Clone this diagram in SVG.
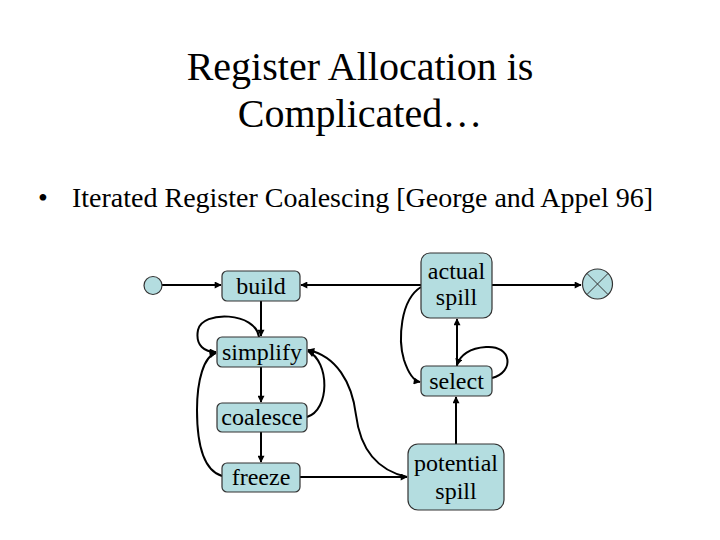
<svg xmlns="http://www.w3.org/2000/svg" width="720" height="540" viewBox="0 0 720 540">
<style>
.t{font-family:'Liberation Serif','Times New Roman',serif;fill:#000}
.n{fill:#b4dde0;stroke:#333;stroke-width:1.2}
.c{fill:none;stroke:#000;stroke-width:2;marker-end:url(#ah)}
.lbl{font-size:24px;text-anchor:middle}
</style>
<defs>
<marker id="ah" viewBox="0 0 10 10" refX="9" refY="5" markerWidth="8" markerHeight="7" markerUnits="userSpaceOnUse" orient="auto">
<path d="M0,0 L10,5 L0,10 z" fill="#000"/>
</marker>
</defs>
<rect width="720" height="540" fill="#fff"/>
<g id="title">
<text class="t" x="360" y="80" font-size="40" text-anchor="middle">Register Allocation is</text>
<text class="t" x="360" y="127" font-size="40" text-anchor="middle">Complicated…</text>
</g>
<g id="bullet">
<text class="t" x="38" y="207" font-size="28">•</text>
<text class="t" x="72" y="207" font-size="28">Iterated Register Coalescing [George and Appel 96]</text>
</g>
<g id="connectors">
<path class="c" d="M162,285 L221,285"/>
<path class="c" d="M421,285 L301,285"/>
<path class="c" d="M492,285 L581,285"/>
<path class="c" d="M261,301 L261,336"/>
<path class="c" d="M261,367 L261,402"/>
<path class="c" d="M261,432 L261,462"/>
<path class="c" d="M259,337 C256,312 202,310 198,330 C195,346 205,352 216,352"/>
<path class="c" d="M222,476 C202,470 197,440 197,410 C197,380 204,356 216,353"/>
<path class="c" d="M307,417 C330,410 330,362 308,351"/>
<path class="c" d="M407,477 C376,470 360,447 356,415 C352,382 336,356 308,350"/>
<path class="c" d="M300,477 L407,477"/>
<path class="c" d="M457,366 L457,319"/>
<path class="c" d="M456,444 L456,397"/>
<path class="c" d="M492,378 C515,372 512,345 486,347 C470,348 460,355 457,365"/>
<path class="c" d="M421,287 C400,300 398,340 404,360 C409,375 414,381 420,382"/>
</g>
<g id="start"><circle class="n" cx="153" cy="285.5" r="9"/></g>
<g id="end">
<circle class="n" cx="597.5" cy="284" r="15"/>
<path d="M586.9,273.4 L608.1,294.6 M608.1,273.4 L586.9,294.6" stroke="#333" stroke-width="1"/>
</g>
<g id="build">
<rect class="n" x="222" y="271" width="78" height="30" rx="5"/>
<text class="t lbl" x="261" y="294">build</text>
</g>
<g id="simplify">
<rect class="n" x="217" y="337" width="90" height="30" rx="5"/>
<text class="t lbl" x="262" y="360">simplify</text>
</g>
<g id="coalesce">
<rect class="n" x="217" y="403" width="90" height="29" rx="5"/>
<text class="t lbl" x="262" y="425">coalesce</text>
</g>
<g id="freeze">
<rect class="n" x="222" y="463" width="78" height="29" rx="5"/>
<text class="t lbl" x="261" y="485">freeze</text>
</g>
<g id="actual_spill">
<rect class="n" x="421" y="253" width="71" height="65" rx="9"/>
<text class="t lbl" x="456.5" y="279">actual</text>
<text class="t lbl" x="456.5" y="305">spill</text>
</g>
<g id="select">
<rect class="n" x="421" y="366" width="71" height="30" rx="5"/>
<text class="t lbl" x="456.5" y="389">select</text>
</g>
<g id="potential_spill">
<rect class="n" x="408" y="444" width="96" height="66" rx="10"/>
<text class="t lbl" x="456" y="471">potential</text>
<text class="t lbl" x="456" y="499">spill</text>
</g>
</svg>
